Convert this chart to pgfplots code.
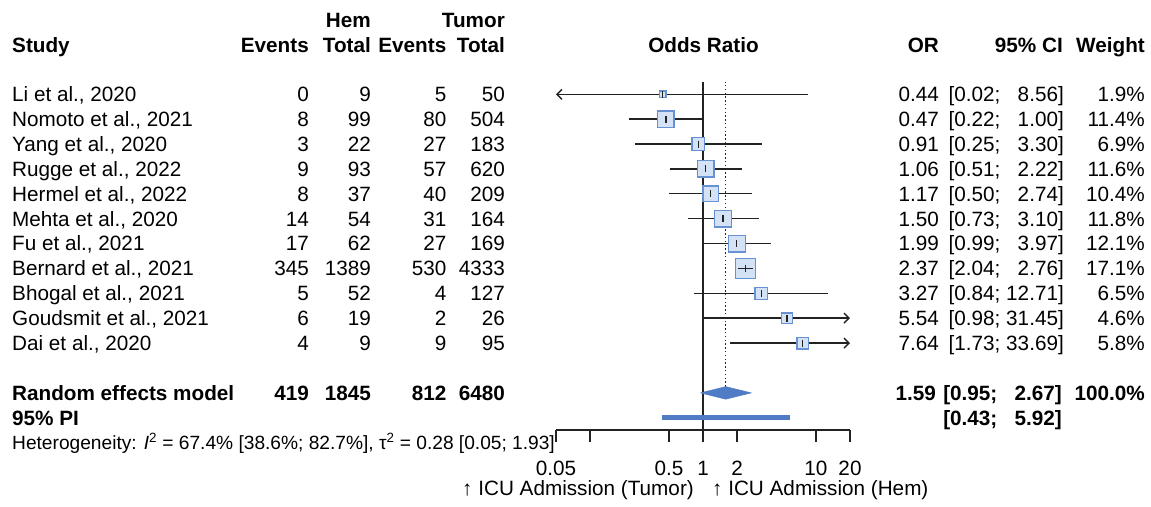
\documentclass[border=0pt]{standalone}
\usepackage{pgfplots}
\pgfplotsset{compat=1.18}
\usepackage{pgfplotstable}
\usepackage{fontspec}
\setmainfont{Liberation Sans}
\usetikzlibrary{arrows.meta}
\definecolor{sqfill}{HTML}{D4E2F6}
\definecolor{sqdraw}{HTML}{6891D4}
\definecolor{dia}{HTML}{4F7CC4}
\definecolor{ln}{HTML}{222222}
\newcommand\fs{\fontsize{20.7bp}{24bp}\selectfont}
\newcommand\fh{\fontsize{19.15bp}{23bp}\selectfont}

% study  est  lo  hi  weight  y(row centre)
\pgfplotstableread{
id est lo hi w y
1 0.44 0.02 8.56 1.9 412.7
2 0.47 0.22 1.00 11.4 387.8
3 0.91 0.25 3.30 6.9 362.9
4 1.06 0.51 2.22 11.6 338.1
5 1.17 0.50 2.74 10.4 313.2
6 1.50 0.73 3.10 11.8 288.3
7 1.99 0.99 3.97 12.1 263.4
8 2.37 2.04 2.76 17.1 238.5
9 3.27 0.84 12.71 6.5 213.7
10 5.54 0.98 31.45 4.6 188.8
11 7.64 1.73 33.69 5.8 163.9
}\studies

\newcommand\studyrow[9]{%
  \node[anchor=base west] at (12,#1) {#2};
  \node[anchor=base east] at (309,#1) {#3};
  \node[anchor=base east] at (371,#1) {#4};
  \node[anchor=base east] at (446.5,#1) {#5};
  \node[anchor=base east] at (505,#1) {#6};
  \node[anchor=base east] at (939,#1) {#7};
  \node[anchor=base east] at (1064,#1) {#8};
  \node[anchor=base east] at (1145,#1) {#9};
}

\begin{document}
\begin{tikzpicture}
\useasboundingbox (0,0) rectangle (1151bp,507bp);

\begin{axis}[
  at={(556bp,77bp)}, anchor=south west,
  scale only axis, width=294bp, height=348bp,
  xmode=log, xmin=0.05, xmax=20, ymin=77, ymax=425,
  axis x line*=bottom, axis y line=none,
  xtick={0.05,0.1,0.5,1,2,10,20}, xticklabels={,,,,,,},
  xminorticks=false,
  tick align=outside, major tick length=12bp,
  tick style={ln, line width=1.2bp},
  axis line style={-, ln, line width=1.2bp},
  clip=false, clip marker paths=true,
  ci/.style={ln, line width=1.4bp},
  sq/.style={only marks, mark=square*, mark size={2.42*sqrt(#1)},
     mark options={draw=sqdraw, fill=sqfill, line width=1.3bp}},
]
% reference lines
\addplot[ln, line width=1.2bp] coordinates {(1,77) (1,425)};
\addplot[ln, line width=1.2bp, dash pattern=on 1.3bp off 2.5bp] coordinates {(1.59,120.4) (1.59,425)};

% confidence intervals
\addplot[ci, -{Straight Barb[length=5bp,width=10bp]}] coordinates {(8.56,412.7) (0.05,412.7)};
\addplot[ci] coordinates {(0.22,387.8) (1.00,387.8)};
\addplot[ci] coordinates {(0.25,362.9) (3.30,362.9)};
\addplot[ci] coordinates {(0.51,338.1) (2.22,338.1)};
\addplot[ci] coordinates {(0.50,313.2) (2.74,313.2)};
\addplot[ci] coordinates {(0.73,288.3) (3.10,288.3)};
\addplot[ci] coordinates {(0.99,263.4) (3.97,263.4)};
\addplot[ci] coordinates {(0.84,213.7) (12.71,213.7)};
\addplot[ci, -{Straight Barb[length=5bp,width=10bp]}] coordinates {(0.98,188.8) (20,188.8)};
\addplot[ci, -{Straight Barb[length=5bp,width=10bp]}] coordinates {(1.73,163.9) (20,163.9)};

% squares (area proportional to weight)
\addplot[sq=1.9]  coordinates {(0.44,412.7)};
\addplot[sq=11.4] coordinates {(0.47,387.8)};
\addplot[sq=6.9]  coordinates {(0.91,362.9)};
\addplot[sq=11.6] coordinates {(1.06,338.1)};
\addplot[sq=10.4] coordinates {(1.17,313.2)};
\addplot[sq=11.8] coordinates {(1.50,288.3)};
\addplot[sq=12.1] coordinates {(1.99,263.4)};
\addplot[sq=17.1] coordinates {(2.37,238.5)};
\addplot[sq=6.5]  coordinates {(3.27,213.7)};
\addplot[sq=4.6]  coordinates {(5.54,188.8)};
\addplot[sq=5.8]  coordinates {(7.64,163.9)};

% CI fully inside square
\addplot[ci] coordinates {(2.04,238.5) (2.76,238.5)};

% point estimates
\addplot[only marks, mark=|, mark size=3.5bp, mark options={ln, line width=1.2bp}]
  table[x=est, y=y] {\studies};

% pooled estimate and prediction interval
\addplot[fill=dia, draw=dia, line width=0.5bp] coordinates {(0.95,114.1) (1.59,120.4) (2.67,114.1) (1.59,107.8) (0.95,114.1)};
\addplot[dia, line width=5bp] coordinates {(0.43,89.3) (5.92,89.3)};

% tick labels
\node[anchor=base, font=\fs, inner sep=0pt] at (axis cs:0.05,32) {0.05};
\node[anchor=base, font=\fs, inner sep=0pt] at (axis cs:0.5,32) {0.5};
\node[anchor=base, font=\fs, inner sep=0pt] at (axis cs:1,32) {1};
\node[anchor=base, font=\fs, inner sep=0pt] at (axis cs:2,32) {2};
\node[anchor=base, font=\fs, inner sep=0pt] at (axis cs:10,32) {10};
\node[anchor=base, font=\fs, inner sep=0pt] at (axis cs:20,32) {20};
\end{axis}

\begin{scope}[x=1bp, y=1bp, every node/.style={inner sep=0pt, font=\fs}]
% headers
\node[anchor=base east, font=\fs\bfseries] at (371,479) {Hem};
\node[anchor=base east, font=\fs\bfseries] at (505,479) {Tumor};
\node[anchor=base west, font=\fs\bfseries] at (12,454) {Study};
\node[anchor=base east, font=\fs\bfseries] at (309,454) {Events};
\node[anchor=base east, font=\fs\bfseries] at (371,454) {Total};
\node[anchor=base east, font=\fs\bfseries] at (446.5,454) {Events};
\node[anchor=base east, font=\fs\bfseries] at (505,454) {Total};
\node[anchor=base, font=\fs\bfseries] at (703.5,454) {Odds Ratio};
\node[anchor=base east, font=\fs\bfseries] at (939,454) {OR};
\node[anchor=base east, font=\fs\bfseries] at (1063,454) {95\% CI};
\node[anchor=base east, font=\fs\bfseries] at (1145,454) {Weight};

\studyrow{405.4}{Li et al., 2020}{0}{9}{5}{50}{0.44}{[0.02; \phantom{0}8.56]}{1.9\%}
\studyrow{380.5}{Nomoto et al., 2021}{8}{99}{80}{504}{0.47}{[0.22; \phantom{0}1.00]}{11.4\%}
\studyrow{355.6}{Yang et al., 2020}{3}{22}{27}{183}{0.91}{[0.25; \phantom{0}3.30]}{6.9\%}
\studyrow{330.8}{Rugge et al., 2022}{9}{93}{57}{620}{1.06}{[0.51; \phantom{0}2.22]}{11.6\%}
\studyrow{305.9}{Hermel et al., 2022}{8}{37}{40}{209}{1.17}{[0.50; \phantom{0}2.74]}{10.4\%}
\studyrow{281.0}{Mehta et al., 2020}{14}{54}{31}{164}{1.50}{[0.73; \phantom{0}3.10]}{11.8\%}
\studyrow{256.1}{Fu et al., 2021}{17}{62}{27}{169}{1.99}{[0.99; \phantom{0}3.97]}{12.1\%}
\studyrow{231.2}{Bernard et al., 2021}{345}{1389}{530}{4333}{2.37}{[2.04; \phantom{0}2.76]}{17.1\%}
\studyrow{206.4}{Bhogal et al., 2021}{5}{52}{4}{127}{3.27}{[0.84; 12.71]}{6.5\%}
\studyrow{181.5}{Goudsmit et al., 2021}{6}{19}{2}{26}{5.54}{[0.98; 31.45]}{4.6\%}
\studyrow{156.6}{Dai et al., 2020}{4}{9}{9}{95}{7.64}{[1.73; 33.69]}{5.8\%}

\begin{scope}[every node/.style={inner sep=0pt, font=\fs\bfseries}]
\node[anchor=base west] at (12,106.8) {Random effects model};
\node[anchor=base east] at (309,106.8) {419};
\node[anchor=base east] at (371,106.8) {1845};
\node[anchor=base east] at (446.5,106.8) {812};
\node[anchor=base east] at (505,106.8) {6480};
\node[anchor=base east] at (936,106.8) {1.59};
\node[anchor=base east] at (1062,106.8) {[0.95; \phantom{0}2.67]};
\node[anchor=base east] at (1145,106.8) {100.0\%};
\node[anchor=base west] at (12,82.0) {95\% PI};
\node[anchor=base east] at (1062,82.0) {[0.43; \phantom{0}5.92]};
\end{scope}

\node[anchor=base west, font=\fh] at (12,57.1) {Heterogeneity: \textit{I}\textsuperscript{2} = 67.4\% [38.6\%; 82.7\%], τ\textsuperscript{2} = 0.28 [0.05; 1.93]};

\node[anchor=base east] at (694,12) {↑ ICU Admission (Tumor)};
\node[anchor=base west] at (712,12) {↑ ICU Admission (Hem)};
\end{scope}
\end{tikzpicture}
\end{document}
